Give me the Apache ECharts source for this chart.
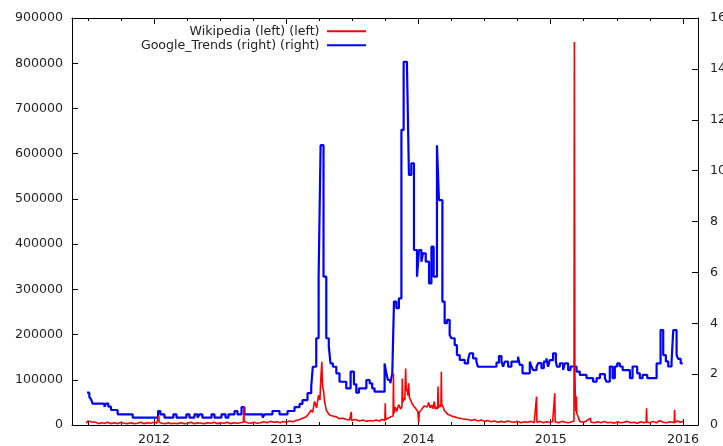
<!DOCTYPE html>
<html>
<head>
<meta charset="utf-8">
<title>Wikipedia vs Google Trends</title>
<script src="https://cdn.jsdelivr.net/npm/echarts@6/dist/echarts.min.js"></script>
<style>
  html, body { margin: 0; padding: 0; background: #fff; overflow: hidden; }
  #chart { width: 723px; height: 446px; }
</style>
</head>
<body>
<div id="chart"></div>
<script>
// x values are decimal years
var yearTicks = [2012, 2013, 2014, 2015, 2016];
var quarterTicks = [2011.5, 2011.75, 2012.25, 2012.5, 2012.75, 2013.25, 2013.5, 2013.75,
  2014.25, 2014.5, 2014.75, 2015.25, 2015.5, 2015.75];

// Google Trends (right axis), weekly steps: value holds until next point
var trendYears = [
  2011.494, 2011.511, 2011.524, 2011.536, 2011.625, 2011.637, 2011.655, 2011.675, 2011.725, 2011.839,
  2012.031, 2012.048, 2012.079, 2012.147, 2012.170, 2012.245, 2012.268, 2012.306, 2012.329, 2012.344,
  2012.366, 2012.435, 2012.457, 2012.510, 2012.541, 2012.563, 2012.609, 2012.631, 2012.662, 2012.684,
  2012.821, 2012.836, 2012.896, 2012.949, 2013.010, 2013.063, 2013.101, 2013.123, 2013.161, 2013.189,
  2013.201, 2013.227, 2013.245, 2013.260, 2013.282, 2013.303, 2013.322, 2013.335, 2013.353, 2013.379,
  2013.403, 2013.454, 2013.487, 2013.512, 2013.530, 2013.550, 2013.606, 2013.631, 2013.650, 2013.668,
  2013.744, 2013.757, 2013.769, 2013.787, 2013.802, 2013.815, 2013.833, 2013.852, 2013.871, 2013.888,
  2013.913, 2013.928, 2013.946, 2013.966, 2013.989, 2014.004, 2014.022, 2014.034, 2014.055, 2014.080,
  2014.098, 2014.115, 2014.140, 2014.155, 2014.181, 2014.198, 2014.216, 2014.236, 2014.249, 2014.274,
  2014.291, 2014.312, 2014.350, 2014.375, 2014.388, 2014.413, 2014.438, 2014.450, 2014.590, 2014.609,
  2014.628, 2014.640, 2014.653, 2014.678, 2014.703, 2014.753, 2014.766, 2014.787, 2014.842, 2014.855,
  2014.867, 2014.893, 2014.905, 2014.930, 2014.948, 2014.968, 2014.980, 2014.993, 2015.018, 2015.039,
  2015.048, 2015.069, 2015.094, 2015.107, 2015.132, 2015.150, 2015.195, 2015.220, 2015.271, 2015.321,
  2015.347, 2015.372, 2015.410, 2015.422, 2015.447, 2015.468, 2015.485, 2015.503, 2015.523, 2015.544,
  2015.599, 2015.619, 2015.654, 2015.674, 2015.695, 2015.730, 2015.801, 2015.831, 2015.851, 2015.871,
  2015.889, 2015.914, 2015.927, 2015.952, 2015.964, 2015.983, 2015.998
];
var trendValues = [
  1.27, 1.11, 1.01, 0.84, 0.72, 0.84, 0.72, 0.59, 0.42, 0.29,
  0.55, 0.42, 0.29, 0.42, 0.29, 0.42, 0.29, 0.42, 0.29, 0.42,
  0.29, 0.42, 0.29, 0.42, 0.29, 0.42, 0.55, 0.42, 0.70, 0.42,
  0.29, 0.42, 0.55, 0.42, 0.55, 0.70, 0.83, 0.98, 1.25, 1.51,
  2.29, 3.41, 5.83, 11.0, 5.83, 3.41, 3.08, 2.42, 2.29, 2.03,
  1.70, 1.44, 2.10, 1.60, 1.27, 1.44, 1.77, 1.64, 1.44, 1.31,
  2.42, 2.03, 1.77, 1.64, 2.03, 4.85, 4.59, 4.98, 11.6, 14.28,
  14.15, 9.83, 10.29, 6.88, 5.83, 6.88, 6.42, 6.75, 6.42, 5.57,
  7.01, 5.83, 11.0, 8.84, 4.85, 4.0, 4.13, 3.54, 3.41, 3.14,
  2.75, 2.56, 2.42, 2.56, 2.82, 2.62, 2.49, 2.29, 2.45, 2.71,
  2.49, 2.29, 2.49, 2.29, 2.49, 2.68, 2.36, 2.03, 2.49, 2.29,
  2.16, 2.29, 2.43, 2.23, 2.49, 2.62, 2.29, 2.55, 2.82, 2.49,
  2.29, 2.42, 2.16, 2.42, 2.16, 2.30, 2.10, 1.97, 1.84, 1.70,
  1.84, 2.00, 1.84, 1.70, 2.30, 1.84, 2.30, 2.42, 2.30, 2.16,
  1.84, 2.30, 2.03, 1.84, 1.97, 1.84, 2.42, 3.73, 2.75, 2.50,
  2.30, 2.50, 3.73, 2.75, 2.60, 2.42, 2.42
];

// Wikipedia page views (left axis)
var wikiYears = [
  2011.488, 2011.500, 2011.512, 2011.525, 2011.540, 2011.560, 2011.580, 2011.600, 2011.625, 2011.650,
  2011.675, 2011.700, 2011.725, 2011.750, 2011.775, 2011.800, 2011.825, 2011.850, 2011.875, 2011.900,
  2011.925, 2011.950, 2011.975, 2012.000, 2012.020, 2012.033, 2012.036, 2012.039, 2012.060, 2012.085,
  2012.110, 2012.130, 2012.151, 2012.154, 2012.157, 2012.180, 2012.205, 2012.230, 2012.255, 2012.280,
  2012.305, 2012.330, 2012.355, 2012.380, 2012.405, 2012.430, 2012.455, 2012.480, 2012.505, 2012.530,
  2012.555, 2012.580, 2012.605, 2012.630, 2012.655, 2012.676, 2012.679, 2012.682, 2012.705, 2012.730,
  2012.755, 2012.780, 2012.805, 2012.830, 2012.855, 2012.880, 2012.905, 2012.930, 2012.955, 2012.980,
  2013.000, 2013.025, 2013.050, 2013.075, 2013.101, 2013.125, 2013.151, 2013.170, 2013.189, 2013.200,
  2013.214, 2013.229, 2013.245, 2013.255, 2013.260, 2013.269, 2013.275, 2013.282, 2013.290, 2013.303,
  2013.315, 2013.328, 2013.350, 2013.379, 2013.400, 2013.428, 2013.455, 2013.479, 2013.489, 2013.492,
  2013.495, 2013.520, 2013.555, 2013.580, 2013.605, 2013.631, 2013.655, 2013.680, 2013.705, 2013.725,
  2013.746, 2013.749, 2013.752, 2013.770, 2013.790, 2013.808, 2013.811, 2013.814, 2013.825, 2013.835,
  2013.850, 2013.865, 2013.875, 2013.878, 2013.882, 2013.888, 2013.897, 2013.903, 2013.908, 2013.914,
  2013.920, 2013.926, 2013.932, 2013.941, 2013.950, 2013.956, 2013.964, 2013.972, 2013.980, 2013.986,
  2013.995, 2014.002, 2014.006, 2014.013, 2014.022, 2014.032, 2014.043, 2014.055, 2014.066, 2014.077,
  2014.088, 2014.100, 2014.110, 2014.119, 2014.127, 2014.134, 2014.145, 2014.148, 2014.152, 2014.160,
  2014.170, 2014.173, 2014.176, 2014.187, 2014.196, 2014.206, 2014.220, 2014.236, 2014.255, 2014.274,
  2014.292, 2014.312, 2014.330, 2014.350, 2014.375, 2014.400, 2014.425, 2014.450, 2014.475, 2014.500,
  2014.525, 2014.550, 2014.575, 2014.600, 2014.625, 2014.650, 2014.675, 2014.700, 2014.725, 2014.750,
  2014.775, 2014.800, 2014.825, 2014.850, 2014.875, 2014.890, 2014.893, 2014.896, 2014.920, 2014.945,
  2014.970, 2014.995, 2015.015, 2015.028, 2015.031, 2015.034, 2015.060, 2015.085, 2015.110, 2015.135,
  2015.160, 2015.176, 2015.179, 2015.183, 2015.186, 2015.190, 2015.194, 2015.198, 2015.205, 2015.220,
  2015.245, 2015.270, 2015.300, 2015.305, 2015.330, 2015.355, 2015.380, 2015.405, 2015.430, 2015.455,
  2015.480, 2015.505, 2015.530, 2015.555, 2015.580, 2015.605, 2015.630, 2015.655, 2015.680, 2015.705,
  2015.722, 2015.725, 2015.728, 2015.750, 2015.775, 2015.800, 2015.825, 2015.850, 2015.875, 2015.900,
  2015.934, 2015.937, 2015.940, 2015.960, 2015.980, 2016.002
];
var wikiViews = [
  4000, 9000, 5000, 7000, 4000, 6000, 3000, 5000, 4000, 6000,
  3000, 5000, 3000, 6000, 4000, 3000, 5000, 3000, 4000, 6000,
  3000, 5000, 4000, 6000, 4000, 5000, 20000, 6000, 4000, 3000,
  5000, 3000, 4000, 8000, 4000, 3000, 5000, 3000, 4000, 6000,
  3000, 5000, 4000, 3000, 5000, 4000, 6000, 3000, 5000, 4000,
  6000, 3000, 5000, 4000, 5000, 6000, 42000, 8000, 5000, 4000,
  6000, 4000, 5000, 7000, 5000, 8000, 6000, 7000, 5000, 8000,
  6000, 9000, 7000, 10000, 12000, 15000, 18000, 25000, 33000, 28000,
  52000, 38000, 66000, 55000, 92000, 140000, 85000, 77000, 52000, 33000,
  27000, 22000, 20000, 18000, 14000, 15000, 12000, 11000, 10000, 29000,
  10000, 12000, 9000, 11000, 8000, 10000, 9000, 11000, 9000, 12000,
  10000, 48000, 12000, 15000, 18000, 20000, 114000, 25000, 40000, 30000,
  45000, 35000, 40000, 103000, 50000, 60000, 55000, 125000, 75000, 80000,
  65000, 92000, 60000, 55000, 48000, 50000, 42000, 40000, 36000, 35000,
  30000, 5000, 28000, 30000, 34000, 38000, 42000, 45000, 40000, 50000,
  38000, 44000, 36000, 52000, 35000, 40000, 35000, 85000, 38000, 45000,
  40000, 118000, 45000, 40000, 32000, 30000, 24000, 22000, 19000, 18000,
  16000, 15000, 14000, 13000, 12000, 10000, 12000, 9000, 11000, 8000,
  10000, 7000, 9000, 6000, 8000, 6000, 9000, 7000, 6000, 8000,
  5000, 7000, 6000, 8000, 5000, 6000, 63000, 6000, 8000, 5000,
  7000, 6000, 8000, 6000, 70000, 7000, 5000, 8000, 6000, 5000,
  7000, 9000, 847000, 120000, 70000, 30000, 63000, 25000, 20000, 8000,
  6000, 9000, 15000, 6000, 5000, 7000, 5000, 8000, 5000, 6000,
  4000, 7000, 5000, 6000, 8000, 5000, 6000, 4000, 7000, 5000,
  6000, 37000, 6000, 5000, 8000, 5000, 10000, 6000, 5000, 7000,
  5000, 33000, 6000, 9000, 6000, 8000
];

var leftTicks = [0, 100000, 200000, 300000, 400000, 500000, 600000, 700000, 800000, 900000];
var rightTicks = [0, 2, 4, 6, 8, 10, 12, 14, 16];
var legendNames = ['Wikipedia (left) (left)', 'Google_Trends (right) (right)'];

var font = 'DejaVu Sans';
var fontSize = 12.6;
var textColor = '#222';
var xMin = 2011.380, xMax = 2016.114;

function zip(xs, ys) {
  return xs.map(function (x, i) { return [x, ys[i]]; });
}

var myChart = echarts.init(document.getElementById('chart'), null, { renderer: 'canvas' });

function xAxisDef(position, values, len, showLine, showLabel) {
  return {
    type: 'value',
    position: position,
    min: xMin,
    max: xMax,
    axisLine: { show: showLine, onZero: false, lineStyle: { color: '#000', width: 1 } },
    axisTick: { show: true, inside: true, length: len, customValues: values, lineStyle: { color: '#000' } },
    axisLabel: {
      show: showLabel,
      customValues: values,
      margin: 8,
      color: textColor,
      fontFamily: font,
      fontSize: fontSize,
      formatter: function (v) { return String(Math.round(v)); }
    },
    splitLine: { show: false }
  };
}

myChart.setOption({
  animation: false,
  backgroundColor: '#fff',
  // v6 would otherwise shrink the grid so the cut-off right labels fit
  grid: { left: 72, right: 25, top: 18, bottom: 21, containLabel: false, outerBoundsMode: 'none' },
  legend: {
    orient: 'vertical',
    align: 'right',
    right: 357,
    top: 24.3,
    padding: 0,
    itemGap: 0,
    itemWidth: 39,
    itemHeight: 2,
    icon: 'rect',
    data: legendNames,
    // gap between text and sample line is ~9px in the original
    formatter: function (name) { return name + '\u2009'; },
    textStyle: {
      color: textColor,
      fontFamily: font,
      fontSize: fontSize,
      lineHeight: 14
    }
  },
  xAxis: [
    xAxisDef('bottom', yearTicks, 6, true, true),
    xAxisDef('bottom', quarterTicks, 3, false, false),
    xAxisDef('top', yearTicks, 6, true, false),
    xAxisDef('top', quarterTicks, 3, false, false)
  ],
  yAxis: [
    {
      type: 'value',
      position: 'left',
      min: 0,
      max: 900000,
      interval: 100000,
      axisLine: { show: true, lineStyle: { color: '#000' } },
      axisTick: { show: true, inside: true, length: 6, lineStyle: { color: '#000' } },
      axisLabel: {
        margin: 9,
        color: textColor,
        fontFamily: font,
        fontSize: fontSize,
        formatter: function (v) { return leftTicks.indexOf(v) >= 0 ? String(v) : ''; }
      },
      splitLine: { show: false }
    },
    {
      type: 'value',
      position: 'right',
      min: 0,
      max: 16,
      interval: 2,
      axisLine: { show: true, lineStyle: { color: '#000' } },
      axisTick: { show: true, inside: true, length: 6, lineStyle: { color: '#000' } },
      axisLabel: {
        margin: 12,
        color: textColor,
        fontFamily: font,
        fontSize: fontSize,
        formatter: function (v) { return rightTicks.indexOf(v) >= 0 ? String(v) : ''; }
      },
      splitLine: { show: false }
    }
  ],
  series: [
    {
      name: legendNames[0],
      type: 'line',
      xAxisIndex: 0,
      yAxisIndex: 0,
      data: zip(wikiYears, wikiViews),
      showSymbol: false,
      symbol: 'none',
      z: 3,
      color: '#ff0000',
      lineStyle: { color: '#ff0000', width: 1.6 }
    },
    {
      name: legendNames[1],
      type: 'line',
      xAxisIndex: 0,
      yAxisIndex: 1,
      step: 'end',
      data: zip(trendYears, trendValues),
      showSymbol: false,
      symbol: 'none',
      z: 2,
      color: '#0000ff',
      lineStyle: { color: '#0000ff', width: 2.2 }
    }
  ]
});
</script>
</body>
</html>
